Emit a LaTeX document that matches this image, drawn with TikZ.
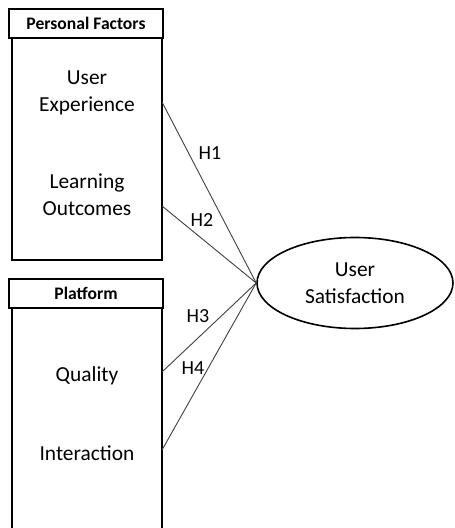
\documentclass[tikz,border=0pt]{standalone}
\usepackage{fontspec}
\setmainfont{Carlito}
\usetikzlibrary{positioning,shapes.geometric}

\begin{document}
\begin{tikzpicture}[
    x=0.5pt, y=-0.5pt,
    head/.style={draw,line width=0.8pt,minimum width=77pt,minimum height=14.5pt,
      inner sep=0pt,font=\fontsize{8.8}{10}\selectfont\bfseries},
    item/.style={align=center,font=\fontsize{10.7}{13.5}\selectfont},
    hyp/.style={font=\fontsize{10}{12}\selectfont},
    link/.style={draw=black!75,line width=0.45pt}]
  \useasboundingbox (0,0) rectangle (454,528);
  % left side: two groups of factors
  \node[head] (personal) at (86,23.5) {Personal Factors};
  \draw[line width=0.8pt] (12,38) rectangle (162,260);
  \node[item] (ux) at (87,93) {User\\Experience};
  \node[item] (lo) at (87,195) {Learning\\Outcomes};
  \node[head] (platform) at (86,293.5) {Platform};
  \draw[line width=0.8pt] (12,528) -- (12,308) (162,308) -- (162,528);
  \node[item] (quality) at (87,376) {Quality};
  \node[item] (inter) at (87,453) {Interaction};
  % right side
  \node[item,draw,ellipse,line width=0.8pt,minimum width=98pt,minimum height=45.5pt,inner sep=0pt]
    (sat) at (355,283) {User\\Satisfaction};
  \coordinate (h1) at (162,102);
  \coordinate (h2) at (162,206);
  \coordinate (h3) at (162,372);
  \coordinate (h4) at (162,450);
  \draw[link] (h1) -- (sat.west);
  \draw[link] (h2) -- (sat.west);
  \draw[link] (h3) -- (sat.west);
  \draw[link] (h4) -- (sat.west);
  \node[hyp] (l1) at (210,153) {H1};
  \node[hyp] (l2) at (202,220) {H2};
  \node[hyp] (l3) at (198,316) {H3};
  \node[hyp] (l4) at (193,368) {H4};
\end{tikzpicture}
\end{document}
